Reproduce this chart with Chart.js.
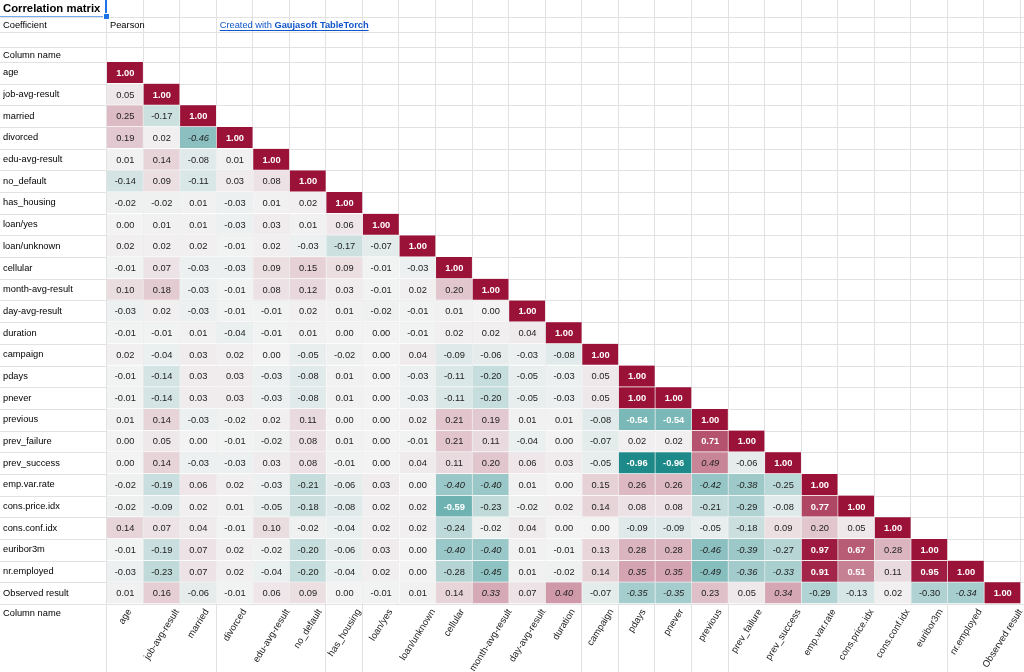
<!DOCTYPE html>
<html><head><meta charset="utf-8">
<script src="https://cdn.jsdelivr.net/npm/chart.js@4.4.1/dist/chart.umd.min.js"></script>
<style>html,body{margin:0;padding:0;background:#fff;overflow:hidden}canvas{display:block}</style>
</head><body>
<canvas id="c" width="1024" height="672"></canvas>
<script>
const titleText = "Correlation matrix";
const coefficientLabel = "Coefficient";
const coefficientName = "Pearson";
const axisCaption = "Column name";
const linkPrefix = "Created with ";
const linkBrand = "Gaujasoft TableTorch";

const columnNames = ["age","job-avg-result","married","divorced","edu-avg-result","no_default","has_housing","loan/yes","loan/unknown","cellular","month-avg-result","day-avg-result","duration","campaign","pdays","pnever","previous","prev_failure","prev_success","emp.var.rate","cons.price.idx","cons.conf.idx","euribor3m","nr.employed","Observed result"];
const rowNames = columnNames.slice();

// Lower triangle of the correlation matrix, one row per variable
const rAge          = [1.00];
const rJob          = [0.05,1.00];
const rMarried      = [0.25,-0.17,1.00];
const rDivorced     = [0.19,0.02,-0.46,1.00];
const rEdu          = [0.01,0.14,-0.08,0.01,1.00];
const rNoDefault    = [-0.14,0.09,-0.11,0.03,0.08,1.00];
const rHousing      = [-0.02,-0.02,0.01,-0.03,0.01,0.02,1.00];
const rLoanYes      = [0.00,0.01,0.01,-0.03,0.03,0.01,0.06,1.00];
const rLoanUnknown  = [0.02,0.02,0.02,-0.01,0.02,-0.03,-0.17,-0.07,1.00];
const rCellular     = [-0.01,0.07,-0.03,-0.03,0.09,0.15,0.09,-0.01,-0.03,1.00];
const rMonth        = [0.10,0.18,-0.03,-0.01,0.08,0.12,0.03,-0.01,0.02,0.20,1.00];
const rDay          = [-0.03,0.02,-0.03,-0.01,-0.01,0.02,0.01,-0.02,-0.01,0.01,0.00,1.00];
const rDuration     = [-0.01,-0.01,0.01,-0.04,-0.01,0.01,0.00,0.00,-0.01,0.02,0.02,0.04,1.00];
const rCampaign     = [0.02,-0.04,0.03,0.02,0.00,-0.05,-0.02,0.00,0.04,-0.09,-0.06,-0.03,-0.08,1.00];
const rPdays        = [-0.01,-0.14,0.03,0.03,-0.03,-0.08,0.01,0.00,-0.03,-0.11,-0.20,-0.05,-0.03,0.05,1.00];
const rPnever       = [-0.01,-0.14,0.03,0.03,-0.03,-0.08,0.01,0.00,-0.03,-0.11,-0.20,-0.05,-0.03,0.05,1.00,1.00];
const rPrevious     = [0.01,0.14,-0.03,-0.02,0.02,0.11,0.00,0.00,0.02,0.21,0.19,0.01,0.01,-0.08,-0.54,-0.54,1.00];
const rPrevFailure  = [0.00,0.05,0.00,-0.01,-0.02,0.08,0.01,0.00,-0.01,0.21,0.11,-0.04,0.00,-0.07,0.02,0.02,0.71,1.00];
const rPrevSuccess  = [0.00,0.14,-0.03,-0.03,0.03,0.08,-0.01,0.00,0.04,0.11,0.20,0.06,0.03,-0.05,-0.96,-0.96,0.49,-0.06,1.00];
const rEmpVarRate   = [-0.02,-0.19,0.06,0.02,-0.03,-0.21,-0.06,0.03,0.00,-0.40,-0.40,0.01,0.00,0.15,0.26,0.26,-0.42,-0.38,-0.25,1.00];
const rConsPrice    = [-0.02,-0.09,0.02,0.01,-0.05,-0.18,-0.08,0.02,0.02,-0.59,-0.23,-0.02,0.02,0.14,0.08,0.08,-0.21,-0.29,-0.08,0.77,1.00];
const rConsConf     = [0.14,0.07,0.04,-0.01,0.10,-0.02,-0.04,0.02,0.02,-0.24,-0.02,0.04,0.00,0.00,-0.09,-0.09,-0.05,-0.18,0.09,0.20,0.05,1.00];
const rEuribor      = [-0.01,-0.19,0.07,0.02,-0.02,-0.20,-0.06,0.03,0.00,-0.40,-0.40,0.01,-0.01,0.13,0.28,0.28,-0.46,-0.39,-0.27,0.97,0.67,0.28,1.00];
const rNrEmployed   = [-0.03,-0.23,0.07,0.02,-0.04,-0.20,-0.04,0.02,0.00,-0.28,-0.45,0.01,-0.02,0.14,0.35,0.35,-0.49,-0.36,-0.33,0.91,0.51,0.11,0.95,1.00];
const rObserved     = [0.01,0.16,-0.06,-0.01,0.06,0.09,0.00,-0.01,0.01,0.14,0.33,0.07,0.40,-0.07,-0.35,-0.35,0.23,0.05,0.34,-0.29,-0.13,0.02,-0.30,-0.34,1.00];

const matrix = [rAge,rJob,rMarried,rDivorced,rEdu,rNoDefault,rHousing,rLoanYes,rLoanUnknown,rCellular,rMonth,rDay,rDuration,rCampaign,rPdays,rPnever,rPrevious,rPrevFailure,rPrevSuccess,rEmpVarRate,rConsPrice,rConsConf,rEuribor,rNrEmployed,rObserved];

// bottom caption row: grid boundaries that are not hidden by overflowing text
const bottomRowLines = [0,3,6,7,13,14,15,16,17,23];

const FONT = '"Liberation Sans", Arial, sans-serif';
const GRID = '#e2e2e2';
const LABEL_ANGLE = 58 * Math.PI / 180;
const ZERO = [243,243,243], POS = [155,18,57], NEG = [20,133,133];
function cellColor(v){
  const t = Math.min(1, Math.abs(v)), e = v >= 0 ? POS : NEG;
  return 'rgb(' + ZERO.map((c,i)=>Math.round(c + (e[i]-c)*t)).join(',') + ')';
}

const datasets = matrix.map((row, r) => ({
  label: rowNames[r],
  data: columnNames.map((_, c) => c < row.length ? [r, r+1] : null),
  backgroundColor: ctx => { const v = matrix[ctx.datasetIndex][ctx.dataIndex]; return v == null ? 'transparent' : cellColor(v); },
  borderColor: 'rgba(255,255,255,0.45)',
  borderWidth: {top:0,left:0,right:1,bottom:1},
  borderSkipped: false,
  grouped: false,
  categoryPercentage: 1,
  barPercentage: 1,
  yAxisID: 'y'
}));

const sheetGrid = {
  id: 'sheetGrid',
  beforeDatasetsDraw(chart){
    const ctx = chart.ctx, xs = chart.scales.x, ys = chart.scales.y;
    const n = columnNames.length, w = (xs.right - xs.left) / n;
    const colB = [...Array(n+1).keys()].map(i => xs.getPixelForValue(0) - w/2 + i*w);
    const rowB = [...Array(rowNames.length+1).keys()].map(i => ys.getPixelForValue(i));
    ctx.save();
    ctx.strokeStyle = GRID; ctx.lineWidth = 1;
    ctx.beginPath();
    const hdr = [17, 32, 47];
    hdr.concat(rowB).forEach(y => { const yy = Math.round(y)+0.5; ctx.moveTo(0,yy); ctx.lineTo(chart.width,yy); });
    colB.forEach(x => { const xx = Math.round(x)-0.5; ctx.moveTo(xx,0); ctx.lineTo(xx,rowB[rowB.length-1]); });
    bottomRowLines.forEach(i => { const xx = Math.round(colB[i])-0.5; ctx.moveTo(xx,rowB[rowB.length-1]); ctx.lineTo(xx,chart.height); });
    ctx.stroke();
    ctx.restore();
  },
  afterDatasetsDraw(chart){
    const ctx = chart.ctx;
    ctx.save();
    ctx.textAlign = 'center'; ctx.textBaseline = 'middle';
    chart.data.datasets.forEach((ds, r) => {
      const meta = chart.getDatasetMeta(r);
      meta.data.forEach((el, c) => {
        if (ds.data[c] == null) return;
        const v = matrix[r][c], a = Math.abs(v);
        const p = el.getCenterPoint();
        if (a >= 0.5) { ctx.font = 'bold 9.3px ' + FONT; ctx.fillStyle = '#ffffff'; }
        else if (a > 0.3) { ctx.font = 'italic 9.3px ' + FONT; ctx.fillStyle = '#222222'; }
        else { ctx.font = '9.3px ' + FONT; ctx.fillStyle = '#222222'; }
        ctx.fillText(v.toFixed(2), p.x, p.y + 0.5);
      });
    });
    ctx.restore();
  },
  afterDraw(chart){
    const ctx = chart.ctx, xs = chart.scales.x, ys = chart.scales.y;
    const n = columnNames.length, w = (xs.right - xs.left) / n;
    const col0 = xs.getPixelForValue(0) - w/2;
    const bottom = ys.getPixelForValue(rowNames.length);
    ctx.save();
    // rotated column captions, centred in their column (spreadsheet style)
    ctx.font = '9.5px ' + FONT; ctx.fillStyle = '#222';
    ctx.textAlign = 'center'; ctx.textBaseline = 'middle';
    columnNames.forEach((name, i) => {
      const W = ctx.measureText(name).width;
      const cx = xs.getPixelForValue(i);
      const cy = bottom + 6 + W/2 * Math.sin(LABEL_ANGLE);
      ctx.save(); ctx.translate(cx, cy); ctx.rotate(-LABEL_ANGLE); ctx.fillText(name, 0, 0); ctx.restore();
    });
    ctx.textBaseline = 'middle'; ctx.textAlign = 'left';
    ctx.fillStyle = '#000';
    ctx.font = 'bold 11.3px ' + FONT;
    ctx.fillText(titleText, 3, 9);
    ctx.font = '9.3px ' + FONT;
    ctx.fillText(coefficientLabel, 3, 25);
    ctx.fillText(coefficientName, col0 + 3, 25);
    ctx.fillText(axisCaption, 3, 55);
    ctx.fillText(axisCaption, 3, bottom + 9);
    // link
    const lx = col0 + 3*w + 3;
    ctx.fillStyle = '#1155cc'; ctx.strokeStyle = '#1155cc';
    ctx.font = '9.3px ' + FONT;
    ctx.fillText(linkPrefix, lx, 25);
    const w1 = ctx.measureText(linkPrefix).width;
    ctx.font = 'bold 9.3px ' + FONT;
    ctx.fillText(linkBrand, lx + w1, 25);
    const w2 = ctx.measureText(linkBrand).width;
    ctx.lineWidth = 1;
    ctx.beginPath(); ctx.moveTo(lx, 30.5); ctx.lineTo(lx + w1 + w2, 30.5); ctx.stroke();
    // selection box around title cell
    ctx.strokeStyle = '#1a73e8'; ctx.lineWidth = 2;
    ctx.beginPath(); ctx.moveTo(col0 - 1, 0); ctx.lineTo(col0 - 1, 17); ctx.stroke();
    ctx.lineWidth = 1; ctx.strokeStyle = 'rgba(26,115,232,0.6)';
    ctx.beginPath(); ctx.moveTo(0, 16.5); ctx.lineTo(col0 - 1, 16.5); ctx.stroke();
    ctx.fillStyle = '#ffffff'; ctx.fillRect(col0 - 4, 13, 7, 7);
    ctx.fillStyle = '#1a73e8'; ctx.fillRect(col0 - 3, 14, 5, 5);
    ctx.restore();
  }
};

new Chart(document.getElementById('c'), {
  type: 'bar',
  data: { labels: columnNames, datasets },
  options: {
    responsive: false, animation: false, devicePixelRatio: 1,
    layout: { padding: { left: 3, right: 3, top: 62, bottom: 0 } },
    plugins: { legend: { display: false }, tooltip: { enabled: false } },
    scales: {
      x: {
        type: 'category', position: 'bottom',
        grid: { display: false }, border: { display: false },
        ticks: { display: false, autoSkip: false },
        afterFit(s){ s.height = 68; }
      },
      y: { type: 'linear', min: 0, max: rowNames.length, reverse: true, display: false },
      yl: {
        type: 'category', labels: rowNames, position: 'left', offset: true,
        grid: { display: false }, border: { display: false },
        ticks: { autoSkip: false, crossAlign: 'far', padding: 0, color: '#000', font: { family: FONT, size: 9.3 } },
        afterFit(s){ s.width = 104; }
      }
    }
  },
  plugins: [sheetGrid]
});
</script>
</body></html>
